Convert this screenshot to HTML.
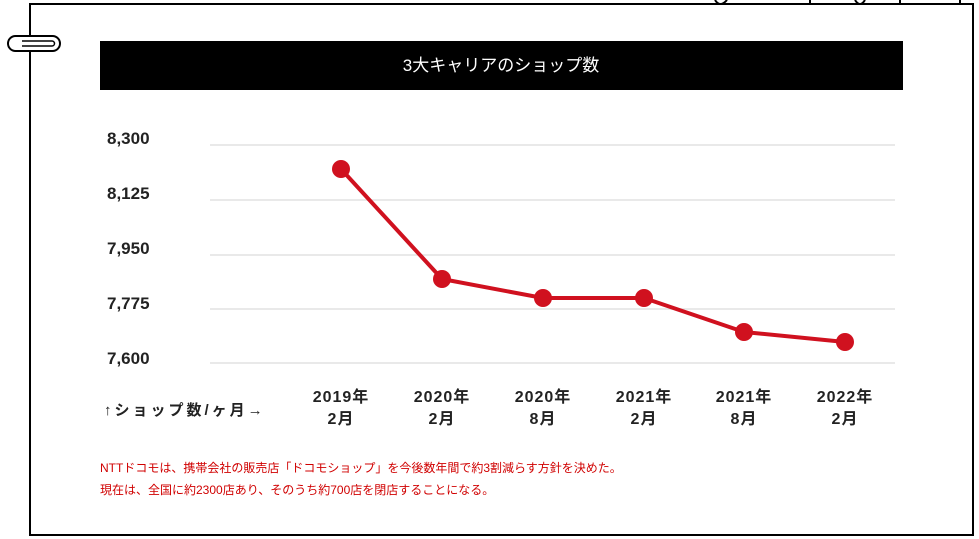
<!DOCTYPE html>
<html><head><meta charset="utf-8"><style>
body{margin:0;width:979px;height:539px;background:#fff;overflow:hidden;position:relative;font-family:"Liberation Sans","Noto Sans CJK JP",sans-serif}
</style></head><body>
<svg width="979" height="539" style="position:absolute;left:0;top:0">
<rect x="30" y="4" width="943" height="531" fill="#fff" stroke="#000" stroke-width="2"/>
<path d="M715 0 q5 8 12 0 M810 0 v4 M855 0 q5 8 10 0 M900 0 v4 M960 0 v4" stroke="#000" fill="none" stroke-width="2"/>
<rect x="8" y="36" width="52" height="15" rx="7.5" fill="#fff" stroke="#000" stroke-width="2"/>
<path d="M22 41 h30 a2.5 2.5 0 0 1 0 5 h-30" fill="none" stroke="#000" stroke-width="1.5"/>
<rect x="100" y="41" width="803" height="49" fill="#000"/>
<text x="501" y="71" fill="#fff" font-size="17" text-anchor="middle" font-family="Liberation Sans,Noto Sans CJK JP,sans-serif">3大キャリアのショップ数</text>
<g stroke="#e2e2e2" stroke-width="1.5">
<line x1="210" y1="145" x2="895" y2="145"/><line x1="210" y1="200" x2="895" y2="200"/><line x1="210" y1="255" x2="895" y2="255"/><line x1="210" y1="309" x2="895" y2="309"/><line x1="210" y1="363" x2="895" y2="363"/>
</g>
<g font-size="17" fill="#222" font-weight="bold">
<text x="107" y="144">8,300</text><text x="107" y="199">8,125</text><text x="107" y="254">7,950</text><text x="107" y="309">7,775</text><text x="107" y="364">7,600</text>
</g>
<polyline points="341,169 442,279 543,298 644,298 744,332 845,342" fill="none" stroke="#d0111f" stroke-width="4" stroke-linejoin="round"/>
<g fill="#d0111f"><circle cx="341" cy="169" r="9"/><circle cx="442" cy="279" r="9"/><circle cx="543" cy="298" r="9"/><circle cx="644" cy="298" r="9"/><circle cx="744" cy="332" r="9"/><circle cx="845" cy="342" r="9"/></g>
<g font-size="16" fill="#222" font-weight="bold" text-anchor="middle" letter-spacing="1">
<text x="341" y="402">2019年</text><text x="341" y="424">2月</text>
<text x="442" y="402">2020年</text><text x="442" y="424">2月</text>
<text x="543" y="402">2020年</text><text x="543" y="424">8月</text>
<text x="644" y="402">2021年</text><text x="644" y="424">2月</text>
<text x="744" y="402">2021年</text><text x="744" y="424">8月</text>
<text x="845" y="402">2022年</text><text x="845" y="424">2月</text>
</g>
<text x="104" y="415" font-size="15" fill="#222" font-weight="bold" letter-spacing="3">↑ショップ数/ヶ月→</text>
<g font-size="12" fill="#d00000">
<text x="100" y="472">NTTドコモは、携帯会社の販売店「ドコモショップ」を今後数年間で約3割減らす方針を決めた。</text>
<text x="100" y="494">現在は、全国に約2300店あり、そのうち約700店を閉店することになる。</text>
</g>
</svg>
</body></html>
